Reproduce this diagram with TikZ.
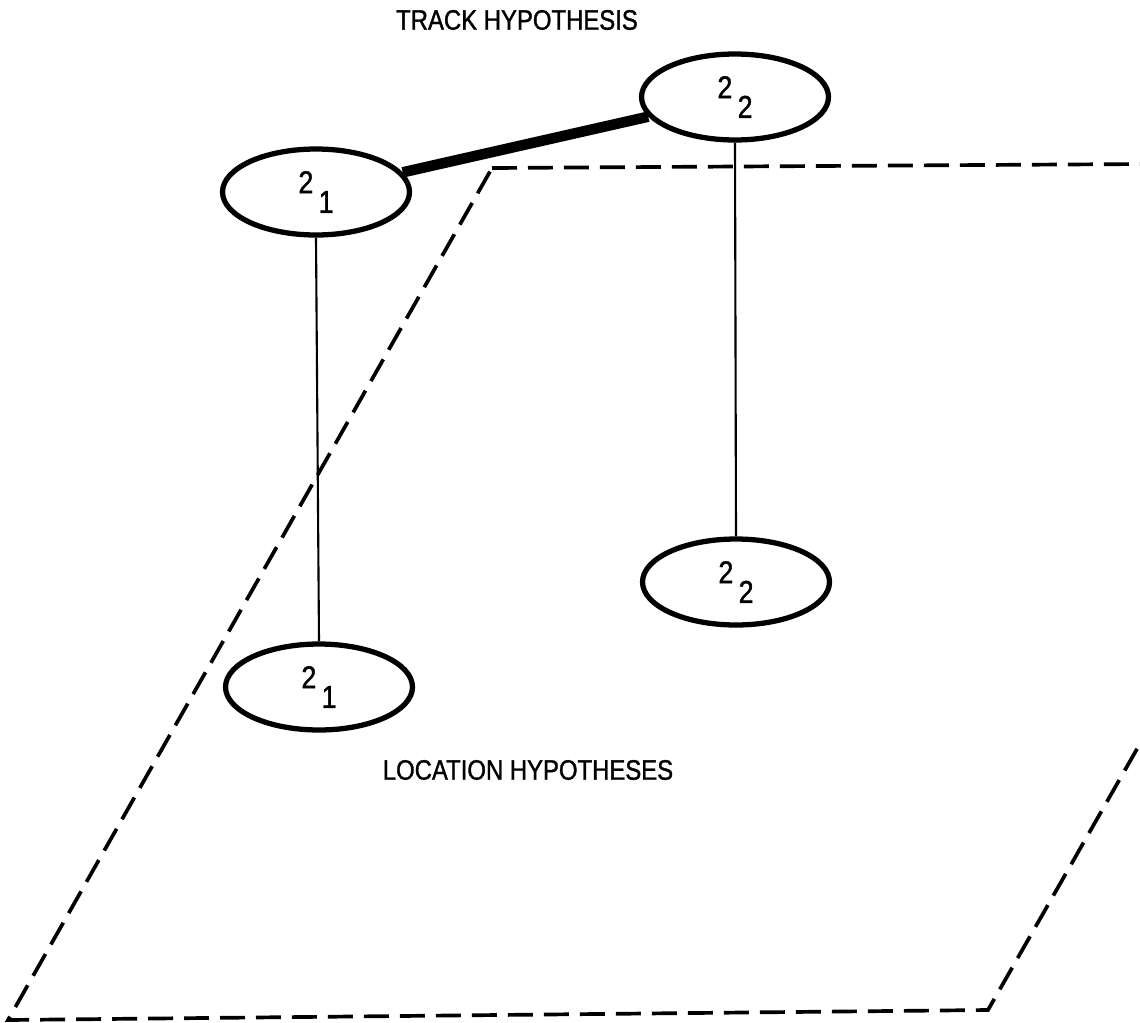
\documentclass[tikz,border=0pt]{standalone}
\usepackage{fontspec}
\newfontfamily\labelfont[FakeStretch=0.85, FakeBold=1.2]{Liberation Sans}
\usetikzlibrary{shapes.geometric}
\newcommand{\hypsub}[2]{#1\,\raisebox{-0.62em}{#2}}

\begin{document}
\begin{tikzpicture}[
  x = 0.02cm, y = -0.02cm,
  hyp/.style       = {ellipse, draw=black, line width=3pt, fill=white, inner sep=0pt,
                      minimum width=3.74cm, minimum height=1.72cm,
                      font=\labelfont\fontsize{18}{20}\selectfont},
  link/.style      = {draw=black, line width=1.2pt},
  tracklink/.style = {draw=black, line width=6pt},
  plane/.style     = {draw=black, line width=2.1pt, dash pattern=on 0.5cm off 0.22cm},
  caption/.style   = {font=\labelfont\fontsize{16}{18}\selectfont}
]
\useasboundingbox (0,0) rectangle (1140,1022);

% ── Location plane (runs off the right edge) ─────────────────────────────────
\coordinate (pa) at (492,168);
\coordinate (pb) at (1472,162);
\coordinate (pc) at (988,1010);
\coordinate (pd) at (8,1020);
\begin{scope}
  \clip (0,0) rectangle (1140,1022);
  \draw[plane] (pa) -- (pb) -- (pc) -- (pd) -- cycle;
\end{scope}

% ── Track hypothesis ─────────────────────────────────────────────────────────
\node[hyp] (trk1) at (316,192) {\hypsub{2}{1}};
\node[hyp] (trk2) at (735,97)  {\hypsub{2}{2}};

% ── Location hypotheses ──────────────────────────────────────────────────────
\node[hyp] (loc1) at (319,687) {\hypsub{2}{1}};
\node[hyp] (loc2) at (736,582) {\hypsub{2}{2}};

% ── Links ────────────────────────────────────────────────────────────────────
\draw[tracklink] (trk1) -- (trk2);
\draw[link] (trk1.south) -- (loc1.north);
\draw[link] (trk2.south) -- (loc2.north);

% ── Captions ─────────────────────────────────────────────────────────────────
\node[caption] (trackcap) at (517,20)  {TRACK HYPOTHESIS};
\node[caption] (loccap)   at (528,770) {LOCATION HYPOTHESES};
\end{tikzpicture}
\end{document}
